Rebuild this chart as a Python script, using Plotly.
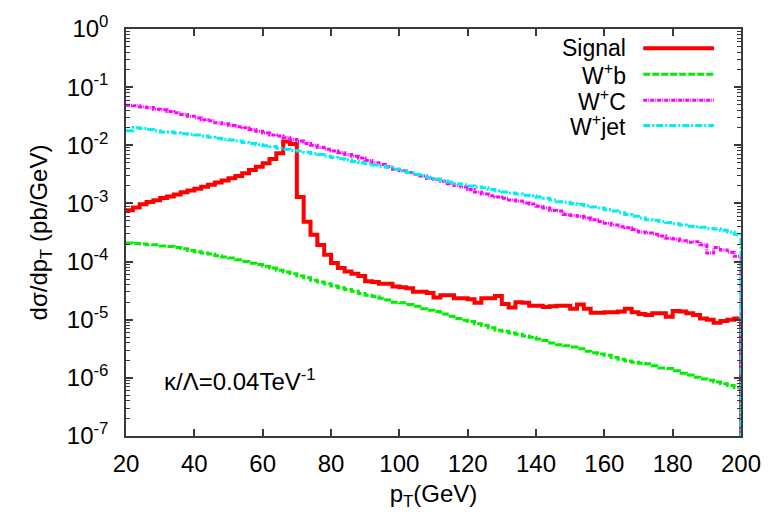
import plotly.graph_objects as go

# pT bins: 2 GeV wide, left edges from 20 to 198 GeV, upper edge 200 GeV
bin_width = 2
pt_low = 20
pt_high = 200
edges = list(range(pt_low, pt_high + 1, bin_width))

# dsigma/dpT (pb/GeV) per bin
signal = [
    7.62e-4, 8.51e-4, 9.66e-4, 1.06e-3, 1.13e-3, 1.24e-3, 1.32e-3, 1.43e-3, 1.55e-3, 1.67e-3,
    1.78e-3, 1.93e-3, 2.09e-3, 2.29e-3, 2.48e-3, 2.71e-3, 2.97e-3, 3.31e-3, 3.76e-3, 4.27e-3,
    4.90e-3, 5.79e-3, 7.33e-3, 1.16e-2, 1.05e-2, 1.29e-3, 4.82e-4, 2.88e-4, 1.93e-4, 1.31e-4,
    9.42e-5, 7.76e-5, 6.76e-5, 6.17e-5, 5.62e-5, 4.57e-5, 4.47e-5, 4.17e-5, 4.17e-5, 3.72e-5,
    3.63e-5, 3.47e-5, 3.02e-5, 3.02e-5, 2.88e-5, 2.40e-5, 2.63e-5, 2.63e-5, 2.34e-5, 2.34e-5,
    2.24e-5, 1.95e-5, 2.34e-5, 2.34e-5, 2.57e-5, 1.86e-5, 1.62e-5, 2.00e-5, 1.95e-5, 1.74e-5,
    1.74e-5, 1.66e-5, 1.70e-5, 1.74e-5, 1.74e-5, 1.55e-5, 1.82e-5, 1.55e-5, 1.32e-5, 1.32e-5,
    1.35e-5, 1.35e-5, 1.38e-5, 1.55e-5, 1.35e-5, 1.26e-5, 1.20e-5, 1.29e-5, 1.29e-5, 1.12e-5,
    1.41e-5, 1.38e-5, 1.29e-5, 1.20e-5, 1.05e-5, 1.00e-5, 8.91e-6, 9.55e-6, 1.00e-5, 1.05e-5,
]

w_b = [
    2.09e-4, 2.04e-4, 2.00e-4, 1.95e-4, 1.95e-4, 1.86e-4, 1.82e-4, 1.74e-4, 1.66e-4, 1.55e-4,
    1.48e-4, 1.41e-4, 1.35e-4, 1.26e-4, 1.20e-4, 1.15e-4, 1.07e-4, 1.00e-4, 9.33e-5, 8.91e-5,
    8.32e-5, 7.76e-5, 7.08e-5, 6.61e-5, 6.17e-5, 5.62e-5, 5.25e-5, 4.79e-5, 4.47e-5, 4.17e-5,
    3.80e-5, 3.55e-5, 3.31e-5, 3.09e-5, 2.82e-5, 2.63e-5, 2.51e-5, 2.34e-5, 2.19e-5, 2.00e-5,
    1.95e-5, 1.82e-5, 1.70e-5, 1.55e-5, 1.45e-5, 1.38e-5, 1.26e-5, 1.15e-5, 1.05e-5, 9.77e-6,
    9.33e-6, 8.51e-6, 7.94e-6, 7.24e-6, 6.61e-6, 6.31e-6, 5.89e-6, 5.62e-6, 5.25e-6, 5.01e-6,
    4.68e-6, 4.37e-6, 3.98e-6, 3.72e-6, 3.55e-6, 3.39e-6, 3.16e-6, 2.88e-6, 2.69e-6, 2.57e-6,
    2.45e-6, 2.24e-6, 2.09e-6, 1.95e-6, 1.86e-6, 1.78e-6, 1.74e-6, 1.62e-6, 1.48e-6, 1.45e-6,
    1.32e-6, 1.20e-6, 1.12e-6, 1.02e-6, 9.55e-7, 9.12e-7, 8.51e-7, 7.94e-7, 7.41e-7, 6.76e-7,
]

w_c = [
    4.90e-2, 4.79e-2, 4.57e-2, 4.47e-2, 4.17e-2, 4.07e-2, 3.80e-2, 3.63e-2, 3.39e-2, 3.16e-2,
    2.95e-2, 2.75e-2, 2.63e-2, 2.45e-2, 2.34e-2, 2.19e-2, 2.09e-2, 2.00e-2, 1.86e-2, 1.74e-2,
    1.62e-2, 1.51e-2, 1.45e-2, 1.35e-2, 1.26e-2, 1.18e-2, 1.07e-2, 1.00e-2, 9.12e-3, 8.51e-3,
    7.94e-3, 7.41e-3, 6.92e-3, 6.46e-3, 6.03e-3, 5.50e-3, 5.01e-3, 4.68e-3, 4.27e-3, 3.89e-3,
    3.63e-3, 3.39e-3, 3.16e-3, 2.95e-3, 2.69e-3, 2.57e-3, 2.40e-3, 2.19e-3, 2.04e-3, 1.91e-3,
    1.74e-3, 1.58e-3, 1.45e-3, 1.35e-3, 1.29e-3, 1.23e-3, 1.15e-3, 1.10e-3, 1.02e-3, 9.77e-4,
    8.91e-4, 8.32e-4, 7.59e-4, 7.41e-4, 6.46e-4, 6.17e-4, 6.03e-4, 5.62e-4, 5.25e-4, 4.90e-4,
    4.57e-4, 4.27e-4, 3.98e-4, 3.80e-4, 3.55e-4, 3.24e-4, 3.09e-4, 2.95e-4, 2.75e-4, 2.51e-4,
    2.45e-4, 2.29e-4, 2.14e-4, 2.19e-4, 1.95e-4, 1.41e-4, 1.74e-4, 1.58e-4, 1.45e-4, 1.23e-4,
]

w_jet = [
    1.78e-2, 2.00e-2, 1.95e-2, 1.86e-2, 1.78e-2, 1.70e-2, 1.70e-2, 1.62e-2, 1.58e-2, 1.55e-2,
    1.51e-2, 1.45e-2, 1.38e-2, 1.32e-2, 1.26e-2, 1.23e-2, 1.18e-2, 1.12e-2, 1.07e-2, 1.02e-2,
    9.77e-3, 9.55e-3, 8.91e-3, 8.51e-3, 8.13e-3, 7.94e-3, 7.59e-3, 7.24e-3, 6.92e-3, 6.46e-3,
    6.17e-3, 5.89e-3, 5.62e-3, 5.25e-3, 5.01e-3, 4.79e-3, 4.57e-3, 4.37e-3, 4.17e-3, 3.89e-3,
    3.63e-3, 3.39e-3, 3.16e-3, 2.95e-3, 2.82e-3, 2.63e-3, 2.45e-3, 2.34e-3, 2.19e-3, 2.09e-3,
    2.00e-3, 1.91e-3, 1.86e-3, 1.74e-3, 1.66e-3, 1.58e-3, 1.51e-3, 1.45e-3, 1.38e-3, 1.35e-3,
    1.29e-3, 1.23e-3, 1.15e-3, 1.07e-3, 1.05e-3, 1.00e-3, 9.55e-4, 9.12e-4, 8.71e-4, 8.32e-4,
    7.76e-4, 7.41e-4, 6.92e-4, 6.46e-4, 6.03e-4, 5.62e-4, 5.25e-4, 5.13e-4, 4.90e-4, 4.68e-4,
    4.47e-4, 4.27e-4, 4.07e-4, 3.98e-4, 3.89e-4, 3.72e-4, 3.63e-4, 3.47e-4, 3.24e-4, 2.95e-4,
]

# histogram closes down to (effectively) zero at the last edge
closing_value = 1e-10

series_names = ["Signal", "W<sup>+</sup>b", "W<sup>+</sup>C", "W<sup>+</sup>jet"]
series_values = [signal, w_b, w_c, w_jet]
series_colors = ["#ff0000", "#00ee00", "#ff00ff", "#00eeee"]
series_dash = ["solid", "7px,2px", "4px,1px,1px,1px", "7px,2px,2px,2px"]
series_width = [4, 3, 3, 3]

y_tick_vals = [1e0, 1e-1, 1e-2, 1e-3, 1e-4, 1e-5, 1e-6, 1e-7]
y_tick_text = ["10<sup>0</sup>", "10<sup>-1</sup>", "10<sup>-2</sup>", "10<sup>-3</sup>",
               "10<sup>-4</sup>", "10<sup>-5</sup>", "10<sup>-6</sup>", "10<sup>-7</sup>"]
x_tick_vals = [20, 40, 60, 80, 100, 120, 140, 160, 180, 200]

FONT = "Liberation Sans, Arial, Helvetica, sans-serif"
AXIS_COLOR = "#3a3a3a"

fig = go.Figure()
for name, vals, color, dash, width in zip(series_names, series_values, series_colors,
                                          series_dash, series_width):
    fig.add_trace(go.Scatter(
        x=edges,
        y=vals + [closing_value],
        mode="lines",
        line=dict(shape="hv", color=color, dash=dash, width=width),
        name=name,
        showlegend=False,
    ))

# key in the upper right: right-aligned labels followed by line samples
legend_rows_y = [0.953, 0.889, 0.825, 0.763]
for name, color, dash, width, yp in zip(series_names, series_colors, series_dash,
                                         series_width, legend_rows_y):
    fig.add_annotation(
        x=0.817, y=yp, xref="paper", yref="paper", text=name, showarrow=False,
        xanchor="right", yanchor="middle", font=dict(family=FONT, size=23, color="black"),
    )
    fig.add_shape(
        type="line", xref="paper", yref="paper", x0=0.841, x1=0.956, y0=yp, y1=yp,
        line=dict(color=color, dash=dash, width=width),
    )

fig.add_annotation(
    x=0.058, y=0.137, xref="paper", yref="paper", text="κ/Λ=0.04TeV<sup>-1</sup>",
    showarrow=False, xanchor="left", yanchor="middle",
    font=dict(family=FONT, size=24, color="black"),
)

fig.update_xaxes(
    range=[pt_low, pt_high], tickvals=x_tick_vals, ticks="inside", ticklen=7,
    tickwidth=1.5, tickcolor=AXIS_COLOR, showline=True, linecolor=AXIS_COLOR,
    linewidth=1.5, mirror="ticks", showgrid=False, zeroline=False,
    ticklabelstandoff=5,
    tickfont=dict(family=FONT, size=24, color="black"),
    title=dict(text="p<sub>T</sub>(GeV)", font=dict(family=FONT, size=24, color="black"),
               standoff=10),
)
fig.update_yaxes(
    type="log", range=[-7, 0], tickvals=y_tick_vals, ticktext=y_tick_text,
    ticks="inside", ticklen=7, tickwidth=1.5, tickcolor=AXIS_COLOR,
    showline=True, linecolor=AXIS_COLOR, linewidth=1.5, mirror="allticks",
    showgrid=False, zeroline=False,
    ticklabelstandoff=11,
    minor=dict(ticks="inside", ticklen=4, tickcolor=AXIS_COLOR, tickwidth=1.2,
               dtick="D1", showgrid=False),
    tickfont=dict(family=FONT, size=24, color="black"),
    title=dict(text="dσ/dp<sub>T</sub> (pb/GeV)",
               font=dict(family=FONT, size=24, color="black"), standoff=12),
)

fig.update_layout(
    width=773, height=515,
    margin=dict(l=126, r=31, t=27, b=77),
    paper_bgcolor="white", plot_bgcolor="white",
    showlegend=False,
)

fig.write_html("out.html")
